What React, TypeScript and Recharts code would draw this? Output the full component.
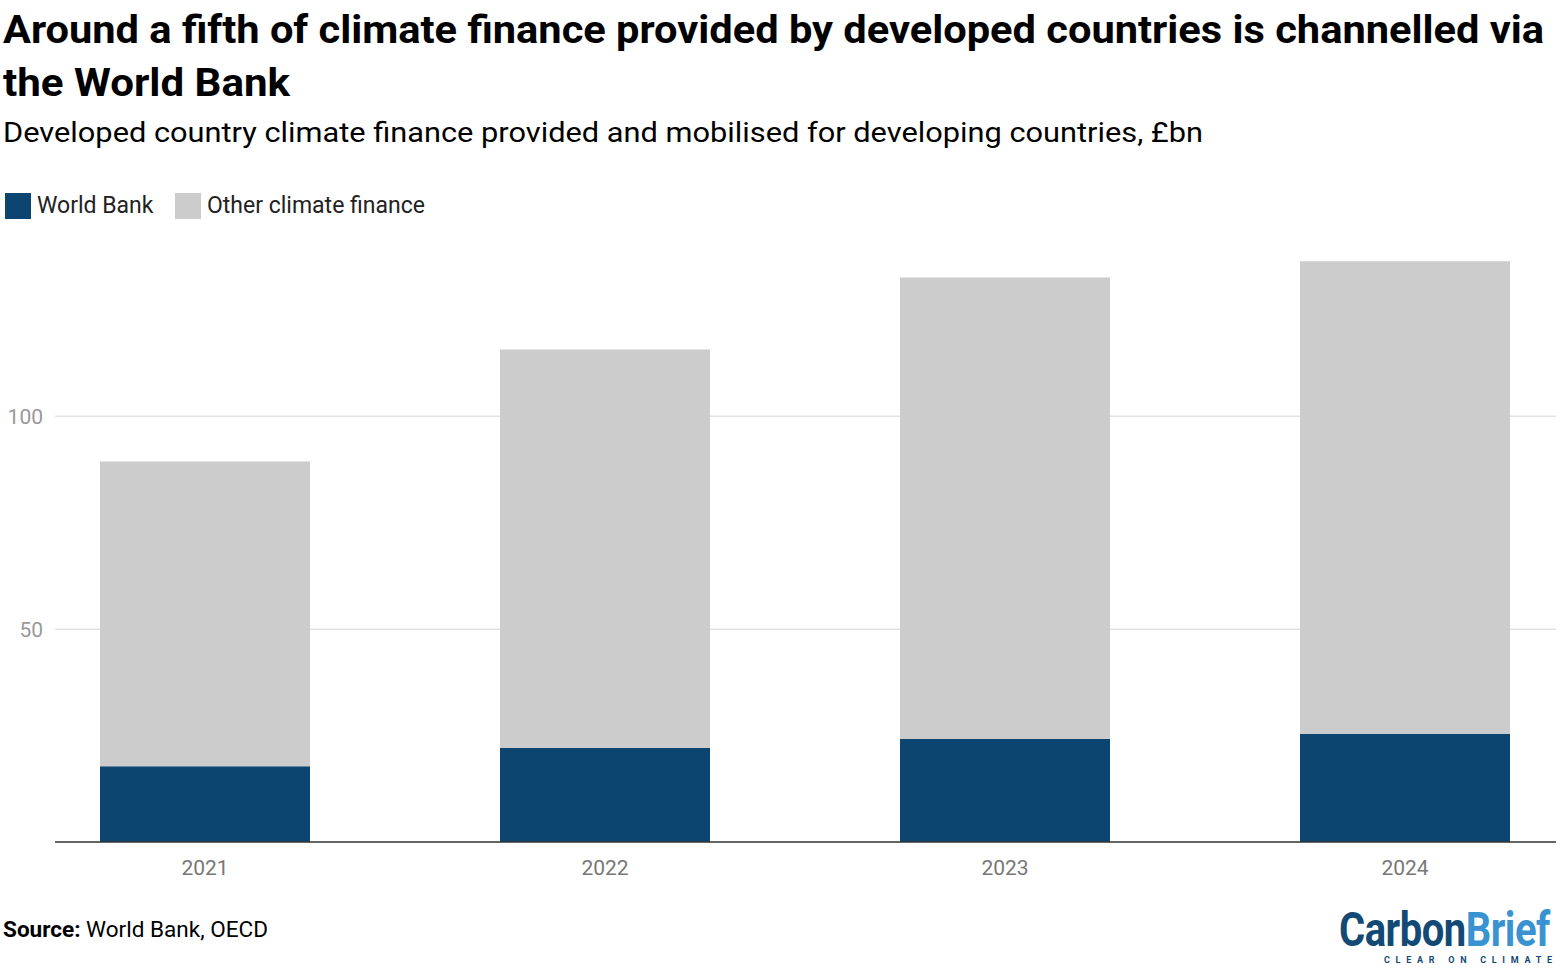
import { BarChart, Bar, XAxis, YAxis, CartesianGrid } from "recharts";

/* ── Data ─────────────────────────────────────────────────────────── */

const years = ["2021", "2022", "2023", "2024"];
const worldBank = [17.8, 22.1, 24.2, 25.4];
const otherFinance = [71.6, 93.6, 108.4, 111.0];
const yTicks = [50, 100];

const rows = years.map((year, i) => ({
  year,
  worldBank: worldBank[i],
  other: otherFinance[i],
}));

const WB_BLUE = "#0d4571";
const OTHER_GREY = "#cccccc";

export default function App() {
  return (
    <div
      style={{
        position: "absolute",
        left: 0,
        top: 0,
        width: 1560,
        height: 972,
        background: "#fff",
        overflow: "hidden",
        fontFamily: "Roboto, sans-serif",
      }}
    >
      {/* chart */}
      <div style={{ position: "absolute", left: 0, top: 230 }}>
        <BarChart
          width={1560}
          height={672}
          data={rows}
          margin={{ top: 16, right: 4, left: 0, bottom: 0 }}
          barSize={210}
        >
          <CartesianGrid
            vertical={false}
            horizontalValues={yTicks}
            stroke="#e3e3e3"
            strokeWidth={1.5}
          />
          <XAxis
            dataKey="year"
            height={60}
            padding={{ left: -50, right: -49 }}
            tickLine={false}
            axisLine={{ stroke: "#333", strokeWidth: 1.5 }}
            tickMargin={12}
            tick={{ fontSize: 21, fill: "#777", fontFamily: "Roboto" }}
          />
          <YAxis
            width={55}
            domain={[0, 140]}
            ticks={yTicks}
            axisLine={false}
            tickLine={false}
            tickMargin={6}
            tick={{ fontSize: 21, fill: "#999", fontFamily: "Roboto" }}
          />
          <Bar dataKey="worldBank" stackId="a" fill={WB_BLUE} isAnimationActive={false} />
          <Bar dataKey="other" stackId="a" fill={OTHER_GREY} isAnimationActive={false} />
        </BarChart>
      </div>

      {/* titles, legend, source, logo */}
      <svg
        width={1560}
        height={972}
        style={{ position: "absolute", left: 0, top: 0, pointerEvents: "none" }}
      >
        <text
          x={3}
          y={43}
          fontSize={38}
          fontWeight={700}
          fill="#000"
          fontFamily="Roboto"
          textLength={1541}
          lengthAdjust="spacingAndGlyphs"
        >
          Around a fifth of climate finance provided by developed countries is channelled via
        </text>
        <text
          x={3}
          y={96}
          fontSize={38}
          fontWeight={700}
          fill="#000"
          fontFamily="Roboto"
          textLength={287}
          lengthAdjust="spacingAndGlyphs"
        >
          the World Bank
        </text>
        <text
          x={3}
          y={142}
          fontSize={28}
          fill="#000"
          fontFamily="Roboto"
          textLength={1200}
          lengthAdjust="spacingAndGlyphs"
        >
          Developed country climate finance provided and mobilised for developing countries, £bn
        </text>

        {/* legend */}
        <rect x={5} y={193} width={26} height={26} fill={WB_BLUE} />
        <text x={37} y={213} fontSize={23} fill="#222" fontFamily="Roboto">
          World Bank
        </text>
        <rect x={175} y={193} width={26} height={26} fill={OTHER_GREY} />
        <text x={207} y={213} fontSize={23} fill="#222" fontFamily="Roboto">
          Other climate finance
        </text>

        {/* source */}
        <text
          x={3}
          y={937}
          fontSize={22}
          fill="#000"
          fontFamily="Roboto"
          textLength={265}
          lengthAdjust="spacingAndGlyphs"
        >
          <tspan fontWeight={700}>Source:</tspan> World Bank, OECD
        </text>

        {/* logo */}
        <g transform="translate(1339,946) scale(1,1.2)">
          <text
            x={0}
            y={0}
            fontSize={40}
            fontWeight={700}
            fontFamily="Roboto"
            letterSpacing={-0.5}
          >
            <tspan fill="#124a75">Carbon</tspan>
            <tspan fill="#3a93d1">Brief</tspan>
          </text>
        </g>
        <text
          x={1384}
          y={963}
          fontSize={9}
          fontWeight={700}
          fill="#124a75"
          fontFamily="Roboto"
          textLength={168}
          lengthAdjust="spacing"
        >
          CLEAR ON CLIMATE
        </text>
      </svg>
    </div>
  );
}
